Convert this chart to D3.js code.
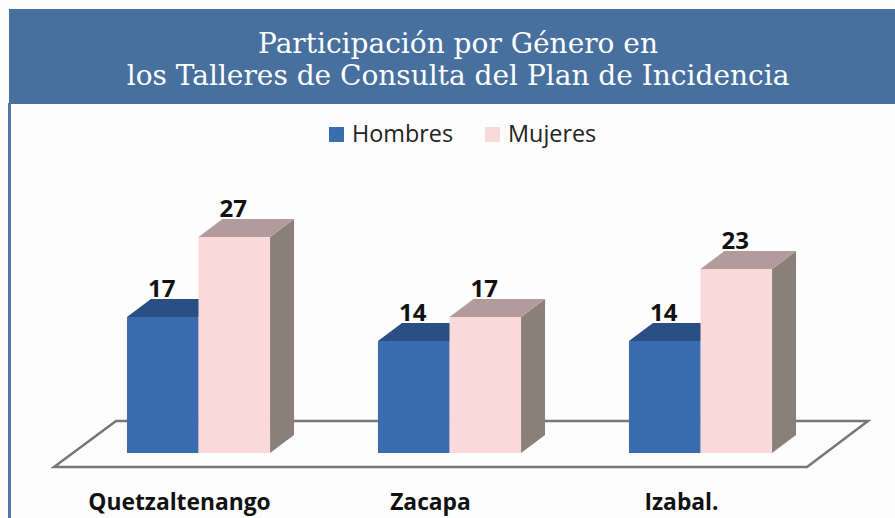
<!DOCTYPE html>
<html>
<head>
<meta charset="utf-8">
<script src="https://cdn.jsdelivr.net/npm/d3@7"></script>
<style>
  html, body { margin: 0; padding: 0; background: #fdfdfd; overflow: hidden; }
  svg { display: block; }
</style>
</head>
<body>
<div id="chart"></div>
<script>
const categories = ["Quetzaltenango", "Zacapa", "Izabal."];
const seriesNames = ["Hombres", "Mujeres"];
const hombres = [17, 14, 14];
const mujeres = [27, 17, 23];
const titleLines = ["Participación por Género en", "los Talleres de Consulta del Plan de Incidencia"];

const colors = {
    Hombres: { front: "#3a6cb0", top: "#2b4e85", side: "#2b4e85" },
    Mujeres: { front: "#f9d9da", top: "#b39b9b", side: "#8b7f7a" }
};

const width = 895, height = 518;
const baseY = 453, topY = 237;
// Depth of the 3d effect
const dx = 24, dy = -18;

const svg = d3.select("#chart").append("svg").attr("width", width).attr("height", height);

svg.append("rect").attr("width", width).attr("height", height).attr("fill", "#fdfdfd");

// Title band and left border
svg.append("rect").attr("x", 9).attr("y", 9).attr("width", width - 9).attr("height", 95).attr("fill", "#48709f");
svg.append("rect").attr("x", 8).attr("y", 103).attr("width", 3).attr("height", height - 103).attr("fill", "#4f77a8");

svg.selectAll("text.title").data(titleLines).enter().append("text")
    .attr("class", "title")
    .text(d => d)
    .attr("x", 458).attr("y", (d, i) => 53 + i * 32)
    .attr("text-anchor", "middle")
    .attr("font-family", "'DejaVu Serif', serif").attr("font-size", 28)
    .attr("fill", "white");

// Legend
const legendX = d3.scaleOrdinal().domain(seriesNames).range([329, 485]);
const legend = svg.selectAll("g.legend").data(seriesNames).enter().append("g")
    .attr("class", "legend")
    .attr("transform", d => "translate(" + legendX(d) + ",127)");
legend.append("rect").attr("width", 15).attr("height", 15).attr("fill", d => colors[d].front);
legend.append("text").text(d => d)
    .attr("x", 23).attr("y", 15)
    .attr("font-family", "'Open Sans', sans-serif").attr("font-size", 23.4)
    .attr("fill", "#222");

// Scales
const x0 = d3.scaleBand().domain(categories).range([73, 826]).paddingInner(0.43).paddingOuter(0.215);
const x1 = d3.scaleBand().domain(seriesNames).range([0, x0.bandwidth()]);
const y = d3.scaleLinear().domain([0, 27]).range([baseY, topY]);

// Floor of the chart
const floor = [[54, 467], [116, 421], [868, 421], [807, 467]];
svg.append("path")
    .attr("d", d3.line()(floor) + "Z")
    .attr("fill", "#fdfdfd").attr("stroke", "#777").attr("stroke-width", 2.5);

const rows = categories.flatMap((c, i) => [
    { cat: c, name: "Hombres", value: hombres[i] },
    { cat: c, name: "Mujeres", value: mujeres[i] }
]);

const bars = svg.selectAll("g.bar").data(rows).enter().append("g")
    .attr("class", "bar")
    .attr("transform", d => "translate(" + (x0(d.cat) + x1(d.name)) + ",0)");

const w = x1.bandwidth();

bars.append("path")
    .attr("d", d => d3.line()([[w, y(d.value)], [w + dx, y(d.value) + dy], [w + dx, baseY + dy], [w, baseY]]) + "Z")
    .attr("fill", d => colors[d.name].side);

bars.append("path")
    .attr("d", d => d3.line()([[0, y(d.value)], [dx, y(d.value) + dy], [w + dx, y(d.value) + dy], [w, y(d.value)]]) + "Z")
    .attr("fill", d => colors[d.name].top);

bars.append("rect")
    .attr("y", d => y(d.value))
    .attr("width", w).attr("height", d => baseY - y(d.value))
    .attr("fill", d => colors[d.name].front);

bars.append("text")
    .text(d => d.value)
    .attr("x", w / 2 - 1).attr("y", d => y(d.value) - 20)
    .attr("text-anchor", "middle")
    .attr("font-family", "'Open Sans', sans-serif").attr("font-weight", "bold").attr("font-size", 24)
    .attr("fill", "#111");

// Category labels
svg.selectAll("text.cat").data(categories).enter().append("text")
    .attr("class", "cat")
    .text(d => d)
    .attr("x", d => x0(d) + x0.bandwidth() / 2 - 19).attr("y", 510)
    .attr("text-anchor", "middle")
    .attr("font-family", "'Open Sans', sans-serif").attr("font-weight", "bold").attr("font-size", 22.8)
    .attr("fill", "#111");
</script>
</body>
</html>
